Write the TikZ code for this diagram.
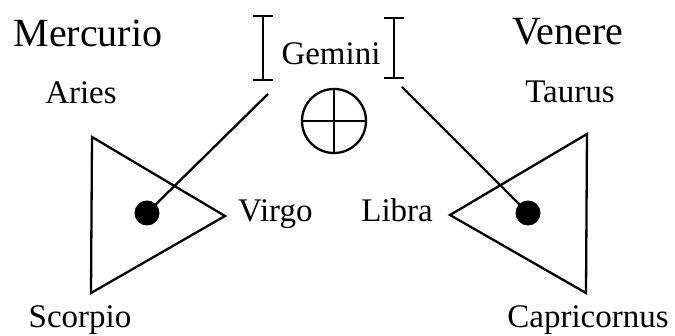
\documentclass[tikz,border=0pt]{standalone}
\usepackage{fontspec}
\setmainfont{Liberation Serif}
\usetikzlibrary{positioning}
\tikzset{
  planet/.style={anchor=base,inner sep=0pt,font=\fontsize{40}{48}\selectfont},
  sign/.style={anchor=base,inner sep=0pt,font=\fontsize{33}{40}\selectfont},
  body/.style={circle,fill=black,inner sep=0pt,minimum width=22pt,minimum height=25pt},
  ink/.style={line width=2.3pt}
}
\begin{document}
\begin{tikzpicture}[x=1pt,y=-1pt]
\useasboundingbox (0,0) rectangle (675,336);
% planets and signs
\node[planet] (merc) at (88,47) {Mercurio};
\node[planet] (ven) at (568,45) {Venere};
\node[sign] (gem) at (331,65) {Gemini};
\node[sign] (ari) at (81,104) {Aries};
\node[sign] (tau) at (570,103) {Taurus};
\node[sign,anchor=base west] (vir) at (238,222) {Virgo};
\node[sign,anchor=base east] (lib) at (433,222) {Libra};
\node[sign] (sco) at (80,328) {Scorpio};
\node[sign] (cap) at (588,328) {Capricornus};
% triangles
\draw[ink,line join=miter] (92,137)--(225,216)--(91,293)--cycle;
\draw[ink,line join=miter] (587,134)--(450,215)--(586,293)--cycle;
\node[body] (ldot) at (147,213) {};
\node[body] (rdot) at (528,213) {};
% brackets round Gemini
\foreach \x/\ya/\yb in {263/16/80,394/18/78}{
  \draw[ink] (\x,\ya)--(\x,\yb);
  \draw[ink] (\x-10,\ya)--(\x+10,\ya);
  \draw[ink] (\x-10,\yb)--(\x+10,\yb);
}
\coordinate (lend) at (268,94);
\coordinate (rend) at (402,87);
\draw[ink] (ldot.center)--(lend);
\draw[ink] (rdot.center)--(rend);
% earth sign
\node[circle,draw,line width=2.3pt,minimum size=64pt,inner sep=0pt] (earth) at (334,121) {};
\draw[ink] (earth.north)--(earth.south);
\draw[ink] (earth.west)--(earth.east);
\end{tikzpicture}
\end{document}
